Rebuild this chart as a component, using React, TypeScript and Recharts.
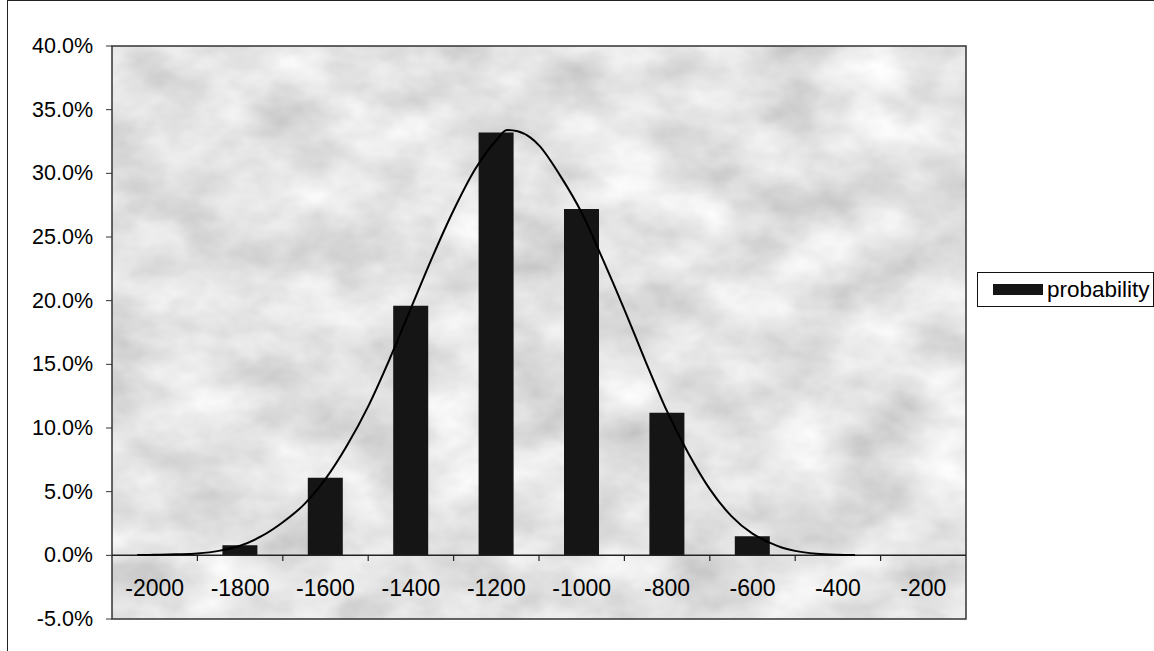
import React from "react";
import {
  ComposedChart,
  Bar,
  Line,
  XAxis,
  YAxis,
  CartesianGrid,
  ReferenceArea,
  ReferenceLine,
  Legend,
} from "recharts";

// ---------------------------------------------------------------------------
// Data
// ---------------------------------------------------------------------------

const bins = ["-2000", "-1800", "-1600", "-1400", "-1200", "-1000", "-800", "-600", "-400", "-200"];
const probability = [0.1, 0.8, 6.1, 19.6, 33.2, 27.2, 11.2, 1.5, 0.05, 0];

// smoothed fit curve, sampled by eye along the drawn line
const curveX = [
  -2040, -2000, -1950, -1900, -1850, -1800, -1750, -1700, -1650, -1600, -1550, -1500,
  -1450, -1400, -1350, -1300, -1250, -1200, -1175, -1150, -1120, -1100, -1050, -1000,
  -950, -900, -850, -800, -750, -700, -650, -600, -560, -530, -500, -450, -400, -360,
];
const curveP = [
  0.02, 0.04, 0.08, 0.15, 0.35, 0.75, 1.5, 2.6, 4.0, 6.0, 8.6, 11.7,
  15.4, 19.4, 23.4, 27.1, 30.3, 32.6, 33.4, 33.3, 32.8, 32.2, 29.8, 26.9,
  23.2, 19.3, 15.2, 11.3, 8.0, 5.2, 3.1, 1.7, 1.0, 0.6, 0.35, 0.13, 0.05, 0.03,
];

const yTicks = [-5, 0, 5, 10, 15, 20, 25, 30, 35, 40];
// small tick marks between the categories, on the zero line
const boundaryTicks = [-1900, -1700, -1500, -1300, -1100, -900, -700, -500, -300];

const barData = bins.map((bin, i) => ({ bin, probability: probability[i] }));
const curveData = curveX.map((x, i) => ({ x, p: curveP[i] }));

const FONT = '"Liberation Sans", Arial, sans-serif';

// ---------------------------------------------------------------------------
// Pieces
// ---------------------------------------------------------------------------

function BinTick(props: any) {
  const { x, y, payload } = props;
  return (
    <text
      x={x}
      y={y - 31}
      textAnchor="middle"
      dominantBaseline="central"
      fontSize={23}
      fontFamily={FONT}
      fill="#000"
    >
      {payload.value}
    </text>
  );
}

function PercentTick(props: any) {
  const { x, y, payload } = props;
  return (
    <text
      x={x}
      y={y}
      textAnchor="end"
      dominantBaseline="central"
      fontSize={21.5}
      fontFamily={FONT}
      fill="#000"
    >
      {`${Number(payload.value).toFixed(1)}%`}
    </text>
  );
}

function LegendBox() {
  return (
    <div
      style={{
        display: "flex",
        alignItems: "center",
        boxSizing: "border-box",
        width: 177,
        height: 35,
        border: "1px solid #111",
        background: "#fff",
        paddingLeft: 15,
      }}
    >
      <span style={{ display: "inline-block", width: 50, height: 11, background: "#151515", marginRight: 4 }} />
      <span style={{ fontSize: 22.5, fontFamily: FONT, color: "#000", whiteSpace: "nowrap" }}>probability</span>
    </div>
  );
}

export default function App() {
  return (
    <div style={{ position: "fixed", left: 0, top: 0, width: 1154, height: 651, background: "#fff", overflow: "hidden" }}>
      <div
        style={{
          position: "absolute",
          left: 7,
          top: 0,
          width: 1200,
          height: 700,
          borderLeft: "1px solid #222",
          borderTop: "1px solid #222",
        }}
      />
      <ComposedChart
        width={1154}
        height={651}
        data={barData}
        margin={{ top: 46, right: 188, bottom: 2, left: 12 }}
        style={{ position: "absolute", left: 0, top: 0 }}
      >
        <defs>
          {/* mottled grey fill, stands in for the old "granite" texture */}
          <filter id="mottle" x="0" y="0" width="100%" height="100%">
            <feTurbulence type="fractalNoise" baseFrequency="0.012 0.018" numOctaves={4} seed={7} result="noise" />
            <feColorMatrix
              in="noise"
              type="matrix"
              values="0.6 0 0 0 0.47  0.6 0 0 0 0.47  0.6 0 0 0 0.47  0 0 0 0 1"
            />
          </filter>
          <pattern id="granite" patternUnits="userSpaceOnUse" x="0" y="0" width="1154" height="651">
            <rect x="0" y="0" width="1154" height="651" fill="#c6c6c6" filter="url(#mottle)" />
          </pattern>
        </defs>
        <CartesianGrid xAxisId="num" horizontal={false} vertical={false} fill="url(#granite)" />
        <XAxis
          xAxisId="cat"
          dataKey="bin"
          type="category"
          height={30}
          axisLine={false}
          tickLine={false}
          tickSize={0}
          tickMargin={0}
          interval={0}
          tick={<BinTick />}
        />
        <XAxis xAxisId="num" dataKey="x" type="number" domain={[-2100, -100]} allowDataOverflow hide />
        <YAxis
          domain={[-5, 40]}
          ticks={yTicks}
          interval={0}
          allowDataOverflow
          width={100}
          axisLine={false}
          tickLine={{ stroke: "#333" }}
          tickSize={6}
          tickMargin={13}
          tick={<PercentTick />}
        />
        <Bar
          xAxisId="cat"
          dataKey="probability"
          name="probability"
          fill="#151515"
          barSize={35}
          isAnimationActive={false}
        />
        <ReferenceLine xAxisId="num" y={0} stroke="#222" strokeWidth={1.5} />
        {boundaryTicks.map((t) => (
          <ReferenceLine
            key={t}
            xAxisId="num"
            segment={[
              { x: t, y: 0 },
              { x: t, y: -0.45 },
            ]}
            stroke="#222"
            strokeWidth={1.2}
          />
        ))}
        <Line
          xAxisId="num"
          data={curveData}
          dataKey="p"
          type="monotone"
          stroke="#000"
          strokeWidth={2}
          dot={false}
          activeDot={false}
          legendType="none"
          isAnimationActive={false}
        />
        <ReferenceArea xAxisId="num" x1={-2100} x2={-100} y1={-5} y2={40} fill="none" stroke="#333" strokeWidth={1.5} />
        <Legend
          layout="vertical"
          align="center"
          verticalAlign="middle"
          content={<LegendBox />}
          wrapperStyle={{ position: "absolute", left: 977, top: 272, width: 177, height: 35 }}
        />
      </ComposedChart>
    </div>
  );
}
